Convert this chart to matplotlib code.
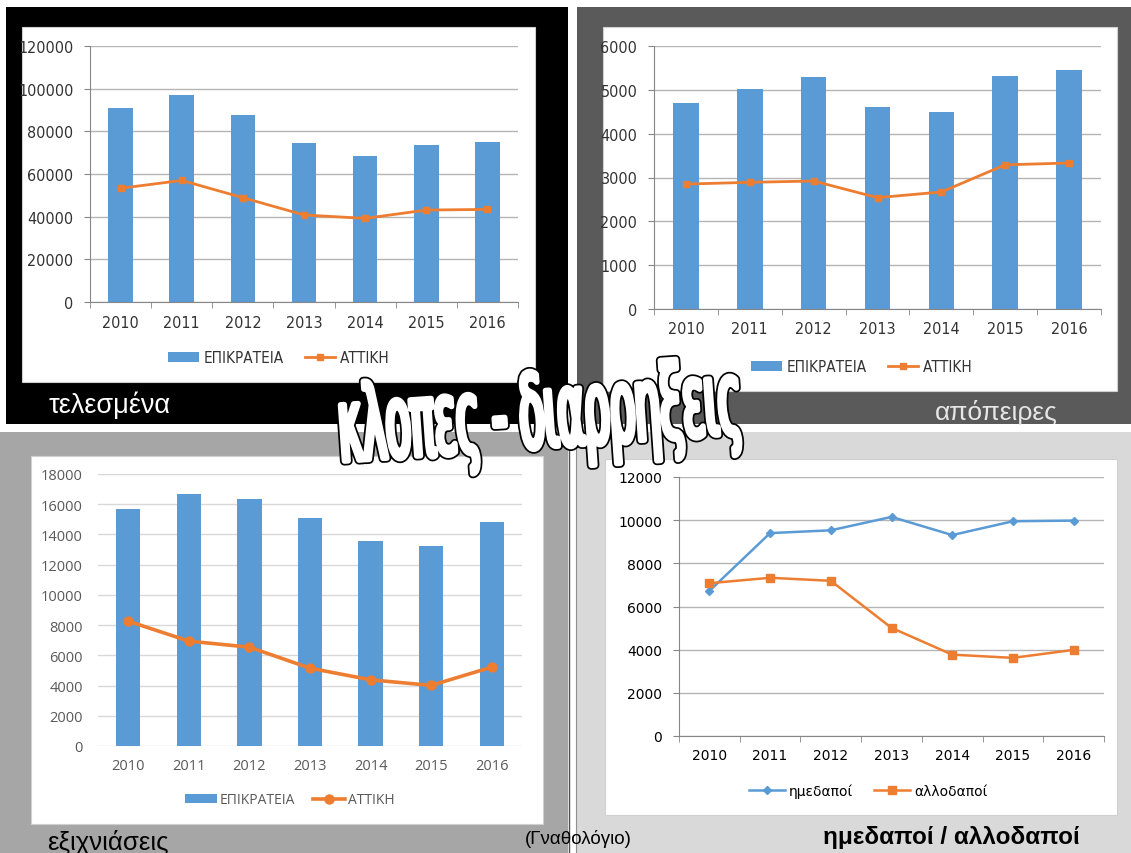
import matplotlib
matplotlib.use('Agg')
import numpy as np
import matplotlib.pyplot as plt
from matplotlib import font_manager
from matplotlib.patches import Rectangle, PathPatch
from matplotlib.textpath import TextPath
from matplotlib.font_manager import FontProperties
from matplotlib.transforms import Affine2D

W, H = 1131, 854

years = ['2010', '2011', '2012', '2013', '2014', '2015', '2016']

# τελεσμένα
done_country = [91000, 97000, 87800, 74500, 68500, 73700, 75100]
done_attica = [53300, 57000, 48900, 40800, 39200, 43100, 43400]
# απόπειρες
attempt_country = [4700, 5030, 5290, 4600, 4490, 5320, 5450]
attempt_attica = [2850, 2890, 2920, 2540, 2670, 3290, 3330]
# εξιχνιάσεις
solved_country = [15660, 16680, 16350, 15070, 13590, 13260, 14800]
solved_attica = [8260, 6940, 6540, 5150, 4380, 4010, 5220]
# ημεδαποί / αλλοδαποί
natives = [6720, 9400, 9530, 10150, 9310, 9950, 9980]
foreigners = [7080, 7330, 7190, 5010, 3770, 3620, 3990]

BLUE = '#5b9bd5'
ORANGE = '#ed7d31'
ARIAL = 'Liberation Sans'


def find_narrow():
    # a condensed face looks closer to the Calibri labels of the original
    fl = font_manager.fontManager.ttflist
    for f in fl:
        if f.name == 'Liberation Sans Narrow' and f.weight == 400 and f.style == 'normal':
            return f.fname
    for f in fl:
        if ('Condensed' in f.name or f.stretch == 'condensed') and f.style == 'normal' \
                and f.weight == 400 and ('Noto Sans' in f.name or 'DejaVu' in f.name):
            return f.fname
    return None


narrow_file = find_narrow()


def narrow(size):
    if narrow_file:
        return FontProperties(fname=narrow_file, size=size)
    return FontProperties(family='Roboto', size=size - 0.5)


def box(x0, y0, x1, y1):
    # pixel box (top-left origin) -> figure fraction
    return [x0 / W, 1 - y1 / H, (x1 - x0) / W, (y1 - y0) / H]


fig = plt.figure(figsize=(W / 100, H / 100), dpi=100)
fig.patch.set_facecolor('white')

bg = fig.add_axes([0, 0, 1, 1], zorder=-1)
bg.set_xlim(0, W)
bg.set_ylim(H, 0)
bg.axis('off')

panels = [(6, 8, 568, 425, 'black'), (577, 8, 1131, 425, '#5a5a5a'),
          (0, 433, 568, 854, '#a6a6a6'), (576, 433, 1131, 854, '#d9d9d9')]
for x0, y0, x1, y1, c in panels:
    bg.add_patch(Rectangle((x0, y0), x1 - x0, y1 - y0, color=c, lw=0))
bg.plot([569, 569], [433, 854], color='#505050', lw=1)
bg.plot([576, 576], [433, 854], color='#909090', lw=0.8)

cards = [(22, 28, 535, 383), (603, 28, 1117, 392), (31, 457, 543, 825), (605, 460, 1117, 816)]
for x0, y0, x1, y1 in cards:
    bg.add_patch(Rectangle((x0, y0), x1 - x0, y1 - y0, facecolor='white', edgecolor='#d0d0d0', lw=0.8))

bg.text(49, 405, 'τελεσμένα', color='white', fontsize=19.5, family=ARIAL, va='center')
bg.text(935, 413, 'απόπειρες', color='#e6e6e6', fontsize=19, family=ARIAL, va='center')
bg.text(47, 843, 'εξιχνιάσεις', color='black', fontsize=18.5, family=ARIAL, va='center')
bg.text(578, 839, '(Γναθολόγιο)', color='black', fontsize=13.5, family=ARIAL, va='center', ha='center')
bg.text(951, 838, 'ημεδαποί / αλλοδαποί', color='black', fontsize=17.5, family=ARIAL,
        weight='bold', va='center', ha='center')


def style_classic(ax, fp, color):
    ax.set_xlim(-0.5, 6.5)
    for s in ['top', 'right']:
        ax.spines[s].set_visible(False)
    ax.spines['left'].set_color('#868686')
    ax.spines['bottom'].set_color('#868686')
    ax.grid(axis='y', color='#b5b5b5', lw=1, zorder=0)
    ax.set_axisbelow(True)
    ax.set_xticks(np.arange(-0.5, 7, 1), minor=True)
    ax.tick_params(axis='x', which='major', length=0, pad=9)
    ax.tick_params(axis='x', which='minor', length=4, color='#868686')
    ax.tick_params(axis='y', length=4, color='#868686', pad=8)
    for lab in ax.get_xticklabels() + ax.get_yticklabels():
        lab.set_fontproperties(fp)
        lab.set_color(color)


def bar_chart(pos, country, attica, ymax, step, leg_xy):
    ax = fig.add_axes(box(*pos))
    x = np.arange(len(years))
    b = ax.bar(x, country, width=0.4, color=BLUE, label='ΕΠΙΚΡΑΤΕΙΑ', zorder=2)
    ln, = ax.plot(x, attica, color=ORANGE, lw=2, marker='s', ms=4.5, label='ΑΤΤΙΚΗ', zorder=3)
    ax.set_ylim(0, ymax)
    ticks = np.arange(0, ymax + 1, step)
    ax.set_yticks(ticks, [str(t) for t in ticks])
    ax.set_xticks(x, years)
    style_classic(ax, narrow(11.5), '#333333')
    ax.legend([b, ln], ['ΕΠΙΚΡΑΤΕΙΑ', 'ΑΤΤΙΚΗ'], loc='center',
              bbox_to_anchor=(leg_xy[0] / W, 1 - leg_xy[1] / H),
              bbox_transform=fig.transFigure, ncol=2, frameon=False,
              prop=narrow(11), handlelength=2.0, handleheight=0.55,
              columnspacing=1.4, handletextpad=0.3, labelcolor='#333333')
    return ax


bar_chart((90, 47, 518, 303), done_country, done_attica, 120000, 20000, (279, 359))
bar_chart((654, 47, 1101, 310), attempt_country, attempt_attica, 6000, 1000, (862, 368))

# εξιχνιάσεις (newer Excel look)
ax3 = fig.add_axes(box(98, 475, 522, 747))
x = np.arange(len(years))
b3 = ax3.bar(x, solved_country, width=0.4, color=BLUE, zorder=2)
l3, = ax3.plot(x, solved_attica, color=ORANGE, lw=2.6, marker='o', ms=6.5, zorder=3)
ax3.set_xlim(-0.5, 6.5)
ax3.set_ylim(0, 18000)
ticks = np.arange(0, 18001, 2000)
ax3.set_yticks(ticks, [str(t) for t in ticks])
ax3.set_xticks(x, years)
for s in ax3.spines.values():
    s.set_visible(False)
ax3.grid(axis='y', color='#d9d9d9', lw=1, zorder=0)
ax3.set_axisbelow(True)
ax3.tick_params(axis='x', length=0, pad=9)
ax3.tick_params(axis='y', length=0, pad=11)
for lab in ax3.get_xticklabels() + ax3.get_yticklabels():
    lab.set_fontfamily('Open Sans')
    lab.set_fontsize(10.5)
    lab.set_color('#595959')
ax3.legend([b3, l3], ['ΕΠΙΚΡΑΤΕΙΑ', 'ΑΤΤΙΚΗ'], loc='center',
           bbox_to_anchor=(290 / W, 1 - 801 / H), bbox_transform=fig.transFigure,
           ncol=2, frameon=False, prop={'family': 'Open Sans', 'size': 10}, handlelength=2.3,
           handleheight=0.55, columnspacing=1.3, handletextpad=0.2, labelcolor='#595959')

# ημεδαποί / αλλοδαποί
ax4 = fig.add_axes(box(679, 478, 1104, 737))
ax4.plot(x, natives, color=BLUE, lw=1.8, marker='D', ms=4, label='ημεδαποί', zorder=3)
ax4.plot(x, foreigners, color=ORANGE, lw=1.8, marker='s', ms=5.5, label='αλλοδαποί', zorder=3)
ax4.set_ylim(0, 12000)
ticks = np.arange(0, 12001, 2000)
ax4.set_yticks(ticks, [str(t) for t in ticks])
ax4.set_xticks(x, years)
style_classic(ax4, FontProperties(family='DejaVu Sans', size=10), 'black')
ax4.legend(loc='center', bbox_to_anchor=(868 / W, 1 - 792 / H), bbox_transform=fig.transFigure,
           ncol=2, frameon=False, prop={'family': 'DejaVu Sans', 'size': 10}, handlelength=2.6,
           columnspacing=1.5, handletextpad=0.3)

# big outlined title across the middle
ov = fig.add_axes([0, 0, 1, 1], zorder=10)
ov.set_xlim(0, W)
ov.set_ylim(H, 0)
ov.axis('off')
if narrow_file:
    title_fp = FontProperties(fname=narrow_file)
else:
    title_fp = FontProperties(family='DejaVu Sans')
tp = TextPath((0, 0), 'κλοπες - διαρρηξεις', size=100, prop=title_fp)
ext = tp.get_extents()
sx = 396 / ext.width
sy = 100 / ext.height
tr = (Affine2D().translate(-(ext.x0 + ext.width / 2), -(ext.y0 + ext.height / 2))
      .scale(sx, -sy).rotate_deg(-4).translate(540, 420))
title_path = tr.transform_path(tp)
# thick black stroke under a thinner white stroke -> fat letters, thin outline
ov.add_patch(PathPatch(title_path, facecolor='black', edgecolor='black', lw=6.5, joinstyle='round'))
ov.add_patch(PathPatch(title_path, facecolor='white', edgecolor='white', lw=4.0, joinstyle='round'))

fig.savefig('out.png', dpi=100)
